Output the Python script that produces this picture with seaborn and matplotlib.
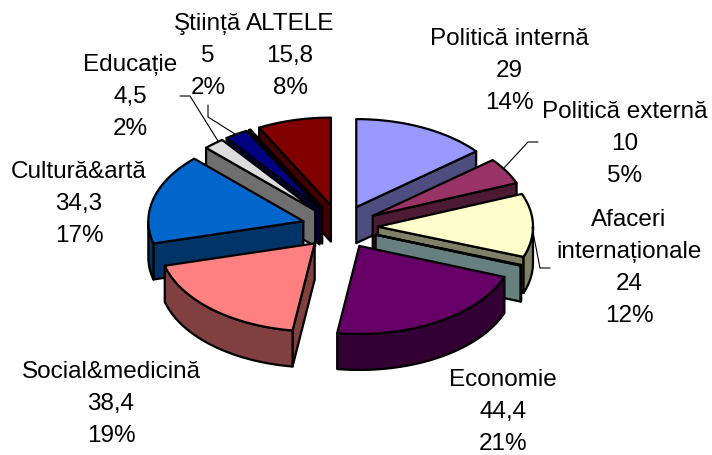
import numpy as np
import matplotlib
matplotlib.use("Agg")
import matplotlib.pyplot as plt
import seaborn as sns

# two unlabelled slivers are visible in the picture (teal and purple)
categories = ["Politică internă", "Politică externă", "Afaceri\ninternaționale", "", "Economie",
              "Social&medicină", "Cultură&artă", "Educație", "Ştiință", "", "ALTELE"]
values = [29, 10, 24, 0.3, 44.4, 38.4, 34.3, 4.5, 5, 0.3, 15.8]
value_labels = ["29", "10", "24", "", "44,4", "38,4", "34,3", "4,5", "5", "", "15,8"]
percents = ["14%", "5%", "12%", "", "21%", "19%", "17%", "2%", "2%", "", "8%"]
colors = ["#9999FF", "#993366", "#FFFFCC", "#CCFFFF", "#660066", "#FF8080",
          "#0066CC", "#DDDDDD", "#000080", "#800080", "#800000"]
label_pos = [(509, 71), (625, 144), (629, 268), None, (503, 412), (111, 404),
             (79, 204), (130, 97), (208, 56), None, (290, 56)]
leaders = [[(503, 170), (528, 143), (538, 143)],
           [(532, 228), (540, 269), (550, 269)],
           [(218, 142), (190, 97), (180, 97)],
           [(235, 135), (208, 118), (208, 106)]]

# pie geometry in pixels
cx, cy = 340, 228
rx, ry = 155, 88
ex, ey = 38, 22
depth = 36

sns.set_theme(style="white")
plt.rcParams["font.family"] = ["Liberation Sans", "DejaVu Sans"]
palette = sns.color_palette(colors)

fig, ax = plt.subplots(figsize=(7.12, 4.56), dpi=100)
ax.set_position([0, 0, 1, 1])
ax.set_xlim(0, 712)
ax.set_ylim(456, 0)
ax.axis("off")

edges = np.concatenate([[0], np.cumsum(values)]) / np.sum(values) * 2 * np.pi


def rim(t, ax0, ay0):
    return ax0 + rx * np.sin(t), ay0 - ry * np.cos(t)


def face(xs, ys, color):
    ax.fill(xs, ys, facecolor=color, edgecolor="black", linewidth=1.6, joinstyle="round")


mids = (edges[:-1] + edges[1:]) / 2
order = np.argsort(-np.cos(mids))

for i in order:
    a, b, m = edges[i], edges[i + 1], mids[i]
    x0 = cx + ex * np.sin(m)
    y0 = cy - ey * np.cos(m)
    side = tuple(c * 0.5 for c in palette[i])

    # radial side faces turned towards the viewer
    if np.sin(a) < 0:
        xa, ya = rim(a, x0, y0)
        face([x0, xa, xa, x0], [y0, ya, ya + depth, y0 + depth], side)
    if np.sin(b) > 0:
        xb, yb = rim(b, x0, y0)
        face([x0, xb, xb, x0], [y0, yb, yb + depth, y0 + depth], side)

    # outer wall, front half of the ellipse only
    lo, hi = max(a, np.pi / 2), min(b, 3 * np.pi / 2)
    if hi > lo:
        t = np.linspace(lo, hi, 60)
        xr, yr = rim(t, x0, y0)
        face(np.r_[xr, xr[::-1]], np.r_[yr, yr[::-1] + depth], side)

    t = np.linspace(a, b, 80)
    xr, yr = rim(t, x0, y0)
    face(np.r_[x0, xr], np.r_[y0, yr], palette[i])

for pts in leaders:
    xs, ys = zip(*pts)
    ax.plot(xs, ys, color="black", lw=0.8)

for name, val, pct, pos in zip(categories, value_labels, percents, label_pos):
    if pos is None:
        continue
    ax.text(pos[0], pos[1], f"{name}\n{val}\n{pct}", ha="center", va="center",
            fontsize=17.5, color="black", linespacing=1.58)

fig.savefig("out.png", dpi=100)
